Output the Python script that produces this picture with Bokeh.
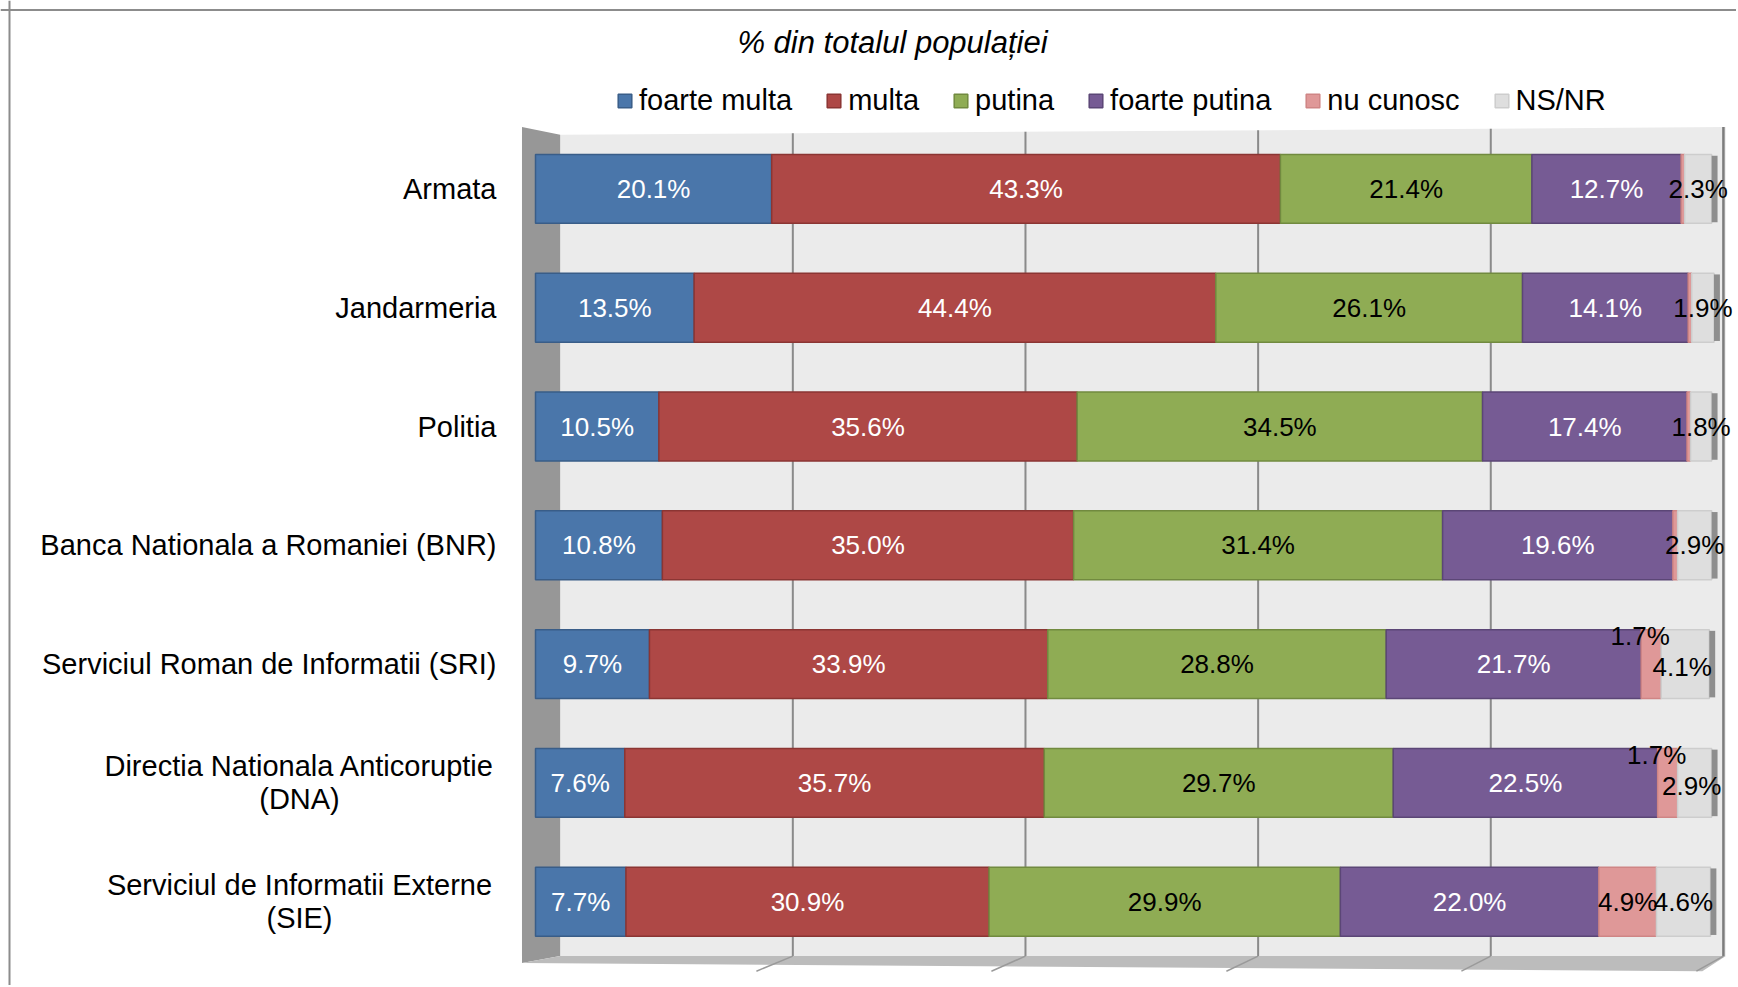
from bokeh.plotting import figure
from bokeh.models import ColumnDataSource, Legend, LegendItem, Label, Span, Range1d
from bokeh.core.properties import value
from bokeh.embed import file_html
from bokeh.resources import INLINE

# ---------------- data ----------------
categories = [
    "Armata",
    "Jandarmeria",
    "Politia",
    "Banca Nationala a Romaniei (BNR)",
    "Serviciul Roman de Informatii (SRI)",
    "Directia Nationala Anticoruptie\n(DNA)",
    "Serviciul de Informatii Externe\n(SIE)",
]
series = ["foarte multa", "multa", "putina", "foarte putina", "nu cunosc", "NS/NR"]
foarte_multa = [20.1, 13.5, 10.5, 10.8, 9.7, 7.6, 7.7]
multa = [43.3, 44.4, 35.6, 35.0, 33.9, 35.7, 30.9]
putina = [21.4, 26.1, 34.5, 31.4, 28.8, 29.7, 29.9]
foarte_putina = [12.7, 14.1, 17.4, 19.6, 21.7, 22.5, 22.0]
nu_cunosc = [0.3, 0.3, 0.3, 0.4, 1.7, 1.7, 4.9]
ns_nr = [2.3, 1.9, 1.8, 2.9, 4.1, 2.9, 4.6]
grid_ticks = [20, 40, 60, 80, 100]
title_text = "% din totalul populației"

values_by_series = [foarte_multa, multa, putina, foarte_putina, nu_cunosc, ns_nr]

# ---------------- styles ----------------
colors = ["#4a76aa", "#ae4846", "#8fac54", "#765b94", "#df9898", "#dedede"]
edge_colors = ["#395d88", "#8b3533", "#718a3f", "#5b4676", "#cf8585", "#cdcdcd"]
text_colors = ["white", "white", "black", "white", "black", "black"]
FONT = "Liberation Sans"

W, H = 1736, 985
PX_PER_PCT = 11.75
X0_PX = 535.0            # canvas x of 0 %
ROW_PX = 118.8
ROW0_PX = 188.4          # canvas y of first row centre
n = len(categories)

x_start = -X0_PX / PX_PER_PCT
x_end = x_start + W / PX_PER_PCT
y_start = -((H - (ROW0_PX + (n - 1) * ROW_PX)) / ROW_PX)
y_end = y_start + H / ROW_PX


def xd(px):
    return (px - X0_PX) / PX_PER_PCT


def yd(py):
    return y_start + (H - py) / ROW_PX


def xback(v):
    return 2.1 + 0.99 * v


p = figure(width=W, height=H, output_backend="svg", toolbar_location=None,
           x_range=Range1d(x_start, x_end), y_range=Range1d(y_start, y_end),
           x_axis_location=None, y_axis_location=None,
           min_border=0, min_border_left=0, min_border_right=0,
           min_border_top=0, min_border_bottom=0)
p.outline_line_color = None
p.background_fill_color = "white"
p.border_fill_color = "white"
p.grid.visible = False
p.xgrid.grid_line_color = None
p.ygrid.grid_line_color = None

ys = [n - 1 - i for i in range(n)]
top_row = n - 1

# ---------------- 3D walls ----------------
back_top_l = top_row + 0.455
back_top_r = top_row + 0.52
side_top_l = top_row + 0.52
wall_bot = -0.458
side_bot_l = -0.517
floor_front = -0.585
side_left_x = -1.15
p.patch([xback(0), xback(100) + 0.2, xback(100) + 0.2, xback(0)],
        [back_top_l, back_top_r, wall_bot, wall_bot],
        fill_color="#ebebeb", line_color=None)
# side wall
p.patch([side_left_x, xback(0), xback(0), side_left_x],
        [side_top_l, back_top_l, wall_bot, side_bot_l],
        fill_color="#979797", line_color=None)
# floor
p.patch([xback(0), xback(100) + 0.2, 99.3, side_left_x],
        [wall_bot, wall_bot, floor_front, side_bot_l],
        fill_color="#bcbcbc", line_color=None)
# gridlines on back wall and floor
for g in grid_ticks:
    p.segment(x0=[xback(g)], y0=[back_top_l + (back_top_r - back_top_l) * g / 100],
              x1=[xback(g)], y1=[wall_bot],
              line_color="#8a8a8a" if g < 100 else "#7c7c7c",
              line_width=2 if g < 100 else 2.5)
    p.segment(x0=[xback(g)], y0=[wall_bot], x1=[g - 1.2], y1=[floor_front],
              line_color="#9a9a9a", line_width=1.5)

# ---------------- bars ----------------
BAR_H = 0.58
left = [0.0] * n
renderers = []
for si, (name, vals) in enumerate(zip(series, values_by_series)):
    right = [l + v for l, v in zip(left, vals)]
    src = ColumnDataSource(dict(left=left, right=right, y=ys,
                                top=[y + BAR_H / 2 for y in ys],
                                bottom=[y - BAR_H / 2 for y in ys]))
    r = p.quad(left="left", right="right", top="top", bottom="bottom", source=src,
               fill_color=colors[si], line_color=edge_colors[si], line_width=1.5)
    renderers.append(r)
    left = right

# dark right-hand caps (3D side faces)
totals = left
p.quad(left=totals, right=[t + 0.5 for t in totals],
       top=[y + BAR_H / 2 - 0.01 for y in ys], bottom=[y - BAR_H / 2 + 0.01 for y in ys],
       fill_color="#8e8e8e", line_color=None)

# ---------------- value labels ----------------
left = [0.0] * n
for si, vals in enumerate(values_by_series):
    lx, ly, lt, xo, yo = [], [], [], [], []
    for i, v in enumerate(vals):
        if v >= 1.0:
            lx.append(left[i] + v / 2)
            ly.append(ys[i])
            lt.append(f"{v:.1f}%")
            narrow_pink = (series[si] == "nu cunosc" and v < 3)
            raised_row = 1.0 <= nu_cunosc[i] < 3
            if narrow_pink:
                xo.append(-11)
                yo.append(-28)
            elif series[si] == "NS/NR" and raised_row:
                xo.append(-3)
                yo.append(3)
            else:
                xo.append(0)
                yo.append(0)
        left[i] += v
    p.text(x=lx, y=ly, text=lt, x_offset=xo, y_offset=yo,
           text_color=text_colors[si], text_font=value(FONT),
           text_font_size="26px", text_align="center", text_baseline="middle")

# ---------------- category labels ----------------
one_x, one_y, one_t = [], [], []
two_x, two_y, two_t, two_o = [], [], [], []
for i, c in enumerate(categories):
    lines = c.split("\n")
    if len(lines) == 1:
        one_x.append(xd(496))
        one_y.append(ys[i])
        one_t.append(c)
    else:
        for k, ln in enumerate(lines):
            two_x.append(xd(299))
            two_y.append(ys[i])
            two_t.append(ln)
            two_o.append(-16.5 + 33 * k)
p.text(x=one_x, y=one_y, text=one_t, text_color="black", text_font=value(FONT),
       text_font_size="29px", text_align="right", text_baseline="middle")
p.text(x=two_x, y=two_y, text=two_t, y_offset=two_o, text_color="black",
       text_font=value(FONT), text_font_size="29px", text_align="center",
       text_baseline="middle")

# ---------------- legend ----------------
legend = Legend(items=[LegendItem(label=s, renderers=[r]) for s, r in zip(series, renderers)],
                orientation="horizontal", location=(616, H - 100 - 17),
                glyph_width=17, glyph_height=17, label_standoff=6, spacing=33,
                padding=0, margin=0, border_line_color=None, background_fill_alpha=0,
                label_text_font=FONT, label_text_font_size="29px",
                label_text_color="black")
p.add_layout(legend)

# ---------------- title ----------------
p.add_layout(Label(x=892, y=H - 42, x_units="screen", y_units="screen",
                   text=title_text, text_font=FONT, text_font_style="italic",
                   text_font_size="31px", text_align="center", text_baseline="middle",
                   text_color="black"))

# ---------------- outer frame ----------------
p.add_layout(Span(location=xd(9.0), dimension="height", line_color="#8c8c8c", line_width=2))
p.add_layout(Span(location=yd(9.5), dimension="width", line_color="#8c8c8c", line_width=2))

open("out.html", "w").write(file_html(p, INLINE))
